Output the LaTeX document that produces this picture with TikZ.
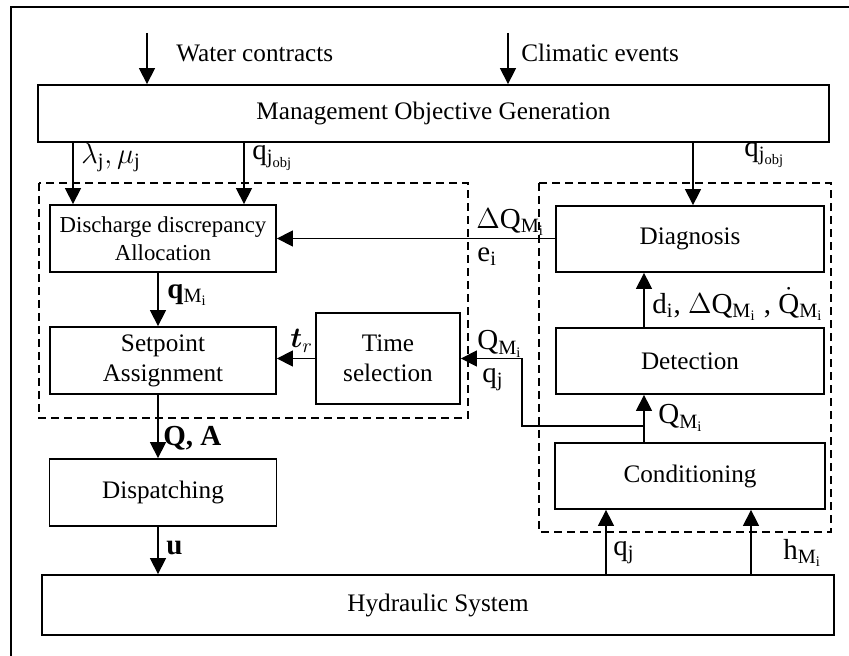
\documentclass[tikz,border=0pt]{standalone}
\usepackage{amsmath}
\usepackage{fontspec}
\setmainfont{Liberation Serif}
\usetikzlibrary{arrows.meta}
\tikzstyle{block} = [rectangle, draw=black, line width=0.9pt, align=center, inner sep=0pt]
\tikzstyle{arrow} = [line width=0.7pt, -{Triangle[width=8pt,length=8pt]}]
\tikzstyle{group} = [draw=black, dash pattern=on 4pt off 2.5pt, line width=0.7pt]
\tikzstyle{lbl} = [anchor=west, inner sep=0pt]
\tikzstyle{sym} = [lbl, font=\fontsize{14.5}{17}\selectfont]

\begin{document}
\begin{tikzpicture}[x=0.5pt, y=-0.5pt, font=\fontsize{12.6}{15}\selectfont]
        \useasboundingbox (0,0) rectangle (849,656);
        \draw [line width=0.8pt] (849,7) -- (11,7) -- (11,656);

        \node (mgmt) [block, minimum width=395.5pt, minimum height=28.5pt] at (433.5,113.5) {Management Objective Generation};
        \node (disch) [block, minimum width=113pt, minimum height=33.5pt, font=\fontsize{11.4}{14}\selectfont] at (163,238.5) {Discharge discrepancy\\Allocation};
        \node (setp) [block, minimum width=113pt, minimum height=33.5pt, below of=disch, node distance=61pt] {Setpoint\\Assignment};
        \node (disp) [block, minimum width=113.5pt, minimum height=33.5pt, below of=setp, node distance=66pt] {Dispatching};
        \node (timesel) [block, minimum width=72pt, minimum height=45.5pt] at (388,358.5) {Time\\selection};
        \node (diag) [block, minimum width=134pt, minimum height=33pt] at (690,239) {Diagnosis};
        \node (detect) [block, minimum width=134pt, minimum height=33pt, below of=diag, node distance=61pt] {Detection};
        \node (cond) [block, minimum width=135pt, minimum height=33pt, below of=detect, node distance=57.5pt] {Conditioning};
        \node (hyd) [block, minimum width=396pt, minimum height=30pt] at (438,605) {Hydraulic System};

        \draw [group] (39,183) rectangle (468,418);
        \draw [group] (539,183) rectangle (831,532);

        \coordinate (wtop) at (147,33);
        \coordinate (ctop) at (508,33);
        \coordinate (lamin) at ([xshift=-45pt]disch.north);
        \coordinate (qin) at ([xshift=40.5pt]disch.north);
        \coordinate (qobj) at ([xshift=1.5pt]diag.north);
        \coordinate (sdown) at ([xshift=-2.5pt]disch.south);
        \coordinate (dup) at ([xshift=-23pt]detect.north);
        \coordinate (cup) at ([xshift=-23pt]cond.north);
        \coordinate (split) at (644,426);
        \coordinate (bend) at (522,426);
        \coordinate (qup) at ([xshift=-42pt]cond.south);
        \coordinate (hup) at ([xshift=30.5pt]cond.south);

        \draw [arrow] (wtop) -- (wtop |- mgmt.north);
        \draw [arrow] (ctop) -- (ctop |- mgmt.north);
        \draw [arrow] (lamin |- mgmt.south) -- (lamin);
        \draw [arrow] (qin |- mgmt.south) -- (qin);
        \draw [arrow] (qobj |- mgmt.south) -- (qobj);
        \draw [arrow] (diag.west |- disch.east) -- (disch.east);
        \draw [arrow] (sdown) -- (sdown |- setp.north);
        \draw [arrow] (timesel.west) -- (timesel.west -| setp.east);
        \draw [arrow] (sdown |- setp.south) -- (sdown |- disp.north);
        \draw [arrow] (sdown |- disp.south) -- (sdown |- hyd.north);
        \draw [arrow] (dup) -- (dup |- diag.south);
        \draw [arrow] (cup) -- (cup |- detect.south);
        \draw [arrow] (split) -- (bend) |- (timesel.east);
        \draw [arrow] (qup |- hyd.north) -- (qup);
        \draw [arrow] (hup |- hyd.north) -- (hup);

        \node (water) [lbl] at (176,53) {Water contracts};
        \node (climatic) [lbl] at (521,53) {Climatic events};
        \node (lamlbl) [sym] at (81,158) {$\lambda_{\mathrm{j}},\mu_{\mathrm{j}}$};
        \node (qlbl) [sym] at (252,158) {$\mathrm{q}_{\mathrm{j}_{\mathrm{obj}}}$};
        \node (qobjlbl) [sym] at (744,155) {$\mathrm{q}_{\mathrm{j}_{\mathrm{obj}}}$};
        \node (dqlbl) [sym] at (476,222) {$\Delta\mathrm{Q}_{\mathrm{M}_{\mathrm{i}}}$};
        \node (elbl) [sym] at (477,257) {$\mathrm{e}_{\mathrm{i}}$};
        \node (qmlbl) [sym] at (167,295) {$\mathbf{q}_{\mathrm{M}_{\mathrm{i}}}$};
        \node (trlbl) [sym] at (290,341) {$\boldsymbol{t}_{r}$};
        \node (dlbl) [sym] at (652,304) {$\mathrm{d}_{\mathrm{i}}$, $\Delta\mathrm{Q}_{\mathrm{M}_{\mathrm{i}}}$ , $\dot{\mathrm{Q}}_{\mathrm{M}_{\mathrm{i}}}$};
        \node (qdlbl) [sym] at (658,418) {$\mathrm{Q}_{\mathrm{M}_{\mathrm{i}}}$};
        \node (qtlbl) [sym] at (477,344) {$\mathrm{Q}_{\mathrm{M}_{\mathrm{i}}}$};
        \node (qjtlbl) [sym] at (482,380) {$\mathrm{q}_{\mathrm{j}}$};
        \node (qalbl) [sym] at (163,438) {\textbf{Q, A}};
        \node (ulbl) [sym] at (166,548) {\textbf{u}};
        \node (qjlbl) [sym] at (613,553) {$\mathrm{q}_{\mathrm{j}}$};
        \node (hlbl) [sym] at (783,553) {$\mathrm{h}_{\mathrm{M}_{\mathrm{i}}}$};
    \end{tikzpicture}
\end{document}
